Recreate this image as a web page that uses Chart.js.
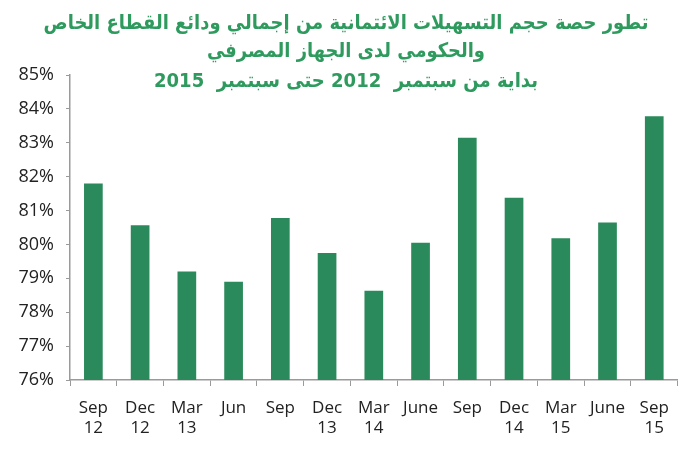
<!DOCTYPE html>
<html>
<head>
<meta charset="utf-8">
<script src="https://cdn.jsdelivr.net/npm/chart.js@4.4.0/dist/chart.umd.min.js"></script>
<style>
  html, body { margin: 0; padding: 0; background: #fff; }
  #wrap { width: 681px; height: 450px; }
</style>
</head>
<body>
<div id="wrap"><canvas id="myChart" width="681" height="450"></canvas></div>
<script>
// etiquetas del eje x (mes, año)
var labels = [
    ['Sep', '12'], ['Dec', '12'], ['Mar', '13'], ['Jun'], ['Sep'],
    ['Dec', '13'], ['Mar', '14'], ['June'], ['Sep'],
    ['Dec', '14'], ['Mar', '15'], ['June'], ['Sep', '15']
];
// porcentaje de facilidades crediticias sobre depósitos
var ratios = [81.8, 80.57, 79.2, 78.9, 80.78, 79.75, 78.63, 80.05, 83.15, 81.38, 80.18, 80.65, 83.78];
var yMin = 76;
var yMax = 85;
var titleLines = [
    'تطور حصة حجم التسهيلات الائتمانية من إجمالي ودائع القطاع الخاص',
    'والحكومي لدى الجهاز المصرفي',
    'بداية من سبتمبر  2012 حتى سبتمبر  2015'
];

var green = '#2b8a5b';
var axisGray = '#9a9a9a';

// título dibujado encima del área del gráfico, ajustado al ancho del original
var titlePlugin = {
    id: 'arabicTitle',
    afterDraw: function (chart) {
        var ctx = chart.ctx;
        var cx = 346;
        var rows = [
            { text: titleLines[0], y: 24, w: 605 },
            { text: titleLines[1], y: 52, w: 278 },
            { text: titleLines[2], y: 82, w: 384 }
        ];
        ctx.save();
        ctx.fillStyle = '#2e9a5e';
        ctx.direction = 'rtl';
        ctx.textAlign = 'center';
        ctx.textBaseline = 'middle';
        ctx.font = 'bold 20px "DejaVu Sans", sans-serif';
        rows.forEach(function (r) {
            var m = ctx.measureText(r.text).width;
            ctx.save();
            ctx.translate(cx, r.y);
            ctx.scale(r.w / m, 1);
            ctx.fillText(r.text, 0, 0);
            ctx.restore();
        });
        ctx.restore();
    }
};

var ctx = document.getElementById('myChart').getContext('2d');
var myChart = new Chart(ctx, {
    type: 'bar',
    data: {
        labels: labels,
        datasets: [{
            data: ratios,
            backgroundColor: green,
            borderWidth: 0,
            barPercentage: 0.4,
            categoryPercentage: 1.0
        }]
    },
    options: {
        responsive: false,
        animation: false,
        layout: { padding: { top: 75, right: 3, left: 0, bottom: 0 } },
        plugins: {
            legend: { display: false },
            tooltip: { enabled: false }
        },
        scales: {
            x: {
                grid: {
                    offset: true,
                    drawOnChartArea: false,
                    drawTicks: true,
                    tickLength: 6,
                    color: axisGray
                },
                border: { color: axisGray, width: 1.5 },
                ticks: {
                    color: '#222',
                    padding: 12,
                    maxRotation: 0,
                    autoSkip: false,
                    font: { family: '"Open Sans", sans-serif', size: 17 }
                },
                afterFit: function (scale) { scale.height = 70; }
            },
            y: {
                min: yMin,
                max: yMax,
                grid: {
                    drawOnChartArea: false,
                    drawTicks: true,
                    tickLength: 4,
                    color: axisGray
                },
                border: { color: axisGray, width: 1.5 },
                ticks: {
                    stepSize: 1,
                    color: '#222',
                    padding: 12,
                    font: { family: '"Open Sans", sans-serif', size: 18 },
                    callback: function (v) { return v + '%'; }
                },
                afterFit: function (scale) { scale.width = 70; }
            }
        }
    },
    plugins: [titlePlugin]
});
</script>
</body>
</html>
